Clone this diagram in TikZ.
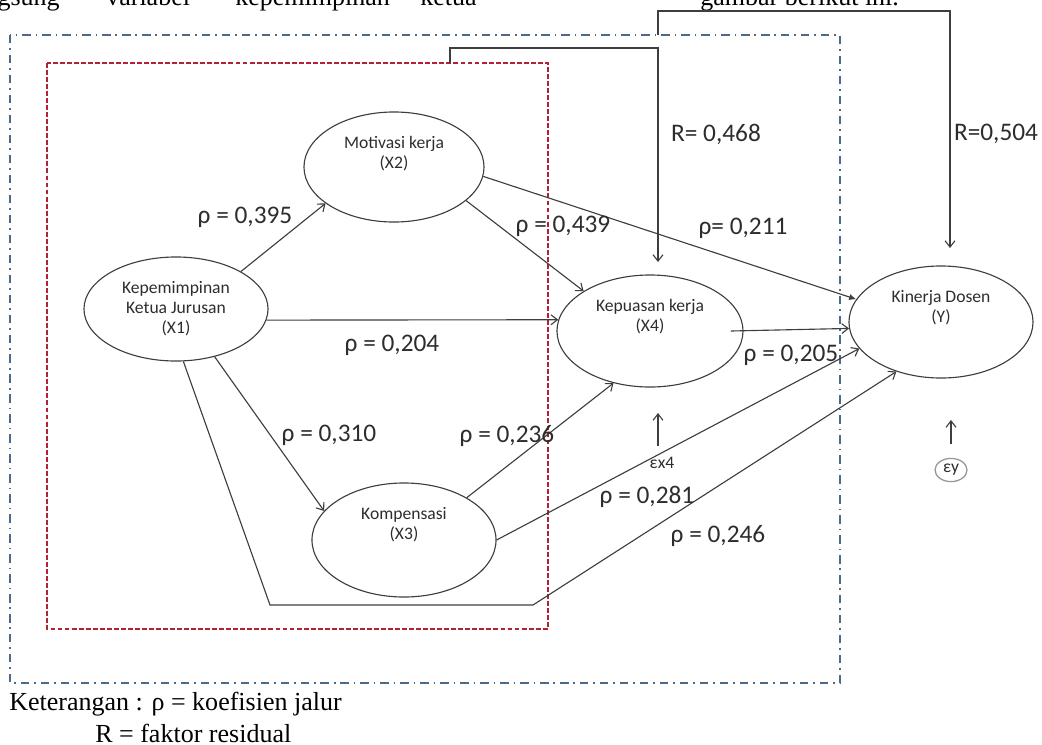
\documentclass[tikz,border=0pt]{standalone}
\usepackage{fontspec}
\setmainfont{Liberation Serif}
\newfontfamily\carlito{Carlito}
\usetikzlibrary{arrows.meta,shapes.geometric,positioning}

\definecolor{linegray}{RGB}{62,62,62}
\definecolor{textgray}{RGB}{45,45,45}
\definecolor{circgray}{RGB}{150,150,150}
\definecolor{boxblue}{RGB}{76,106,136}
\definecolor{boxred}{RGB}{178,34,52}

\begin{document}
\begin{tikzpicture}[x=0.025cm,y=-0.025cm,>={Straight Barb[length=4.5pt,width=7pt]},
  var/.style={ellipse,draw=linegray,line width=0.8pt,inner sep=0pt},
  vartext/.style={anchor=north,yshift=-14pt,font=\carlito\fontsize{12.5}{14.2}\selectfont,text=textgray,align=center},
  path/.style={->,draw=linegray,line width=0.8pt},
  pathsolid/.style={-{Latex[length=5pt,width=4.5pt]},draw=linegray,line width=0.8pt},
  coef/.style={font=\carlito\fontsize{18}{21}\selectfont,text=textgray,inner sep=0pt},
  resid/.style={font=\carlito\fontsize{12.5}{14}\selectfont,text=textgray,inner sep=0pt},
  plain/.style={font=\fontsize{18.5}{22}\selectfont,inner sep=0pt}]
\useasboundingbox (0,0) rectangle (1042,745);
\clip (0,0) rectangle (1042,745);

% running text cut off at the top
\node[plain,anchor=base east] (top1) at (60,5) {langsung};
\node[plain,anchor=base west] (top2) at (106,5) {variabel};
\node[plain,anchor=base west] (top3) at (235,5) {kepemimpinan};
\node[plain,anchor=base west] (top4) at (420,5) {ketua};
\node[plain,anchor=base west] (top5) at (700,5) {gambar berikut ini.};

% groups
\draw[boxblue,line width=1.3pt,dash pattern=on 6pt off 3.5pt on 1.2pt off 3.5pt] (10,35) rectangle (840,683);
\draw[boxred,line width=1.3pt,dash pattern=on 3.5pt off 1.5pt] (47,63) rectangle (548,629);

% variables
\node[var,minimum width=4.6cm,minimum height=2.6cm,label={[vartext]north:Kepemimpinan\\Ketua Jurusan\\(X1)}] (x1) at (176,309) {};
\node[var,minimum width=4.5cm,minimum height=2.75cm,label={[vartext]north:Motivasi kerja\\(X2)}] (x2) at (394,167) {};
\node[var,minimum width=4.6cm,minimum height=2.85cm,label={[vartext]north:Kompensasi\\(X3)}] (x3) at (404,540) {};
\node[var,minimum width=4.65cm,minimum height=2.8cm,label={[vartext]north:Kepuasan kerja\\(X4)}] (x4) at (650,331) {};
\node[var,minimum width=4.6cm,minimum height=2.8cm,label={[vartext]north:Kinerja Dosen\\(Y)}] (y) at (941,322) {};

% paths
\coordinate (bend1) at (270,605);
\coordinate (bend2) at (533,605);
\draw[path] (x1.30) -- (x2.208);
\draw[path] (x1.353) -- (x4.173);
\draw[path] (x1.309) -- (x3.160);
\draw[path] (x1.278) -- (bend1) -- (bend2) -- (y.228);
\draw[path] (x2.335) -- (x4.149);
\draw[pathsolid] (x2.354) -- (y.165);
\draw[path] (x3.34) -- (x4.235);
\draw[path] (x3.0) -- (y.198);
\draw[path] ([xshift=-9pt]x4.east) -- (y.184);

\node[coef] (c12) at (245,217) {ρ = 0,395};
\node[coef] (c14) at (392,345) {ρ = 0,204};
\node[coef] (c13) at (329,435) {ρ = 0,310};
\node[coef] (c24) at (563,226) {ρ = 0,439};
\node[coef] (c2y) at (743,228) {ρ= 0,211};
\node[coef] (c34) at (507,436) {ρ = 0,236};
\node[coef] (c4y) at (791,355) {ρ = 0,205};
\node[coef] (c3y) at (647,497) {ρ = 0,281};
\node[coef] (c1y) at (718,536) {ρ = 0,246};

% residuals
\coordinate (r4start) at (450,63);
\coordinate (r4tip) at (658,262);
\coordinate (rystart) at (658,35);
\coordinate (rytip) at (950,248);
\draw[path] (r4start) -- ++(0,-15) -| (r4tip);
\draw[path] (rystart) -- ++(0,-24) -| (rytip);
\node[coef] (r4) at (716,134) {R= 0,468};
\node[coef] (ry) at (996,134) {R=0,504};

\coordinate (ex4tip) at (658,413);
\coordinate (eytip) at (951,420);
\node[resid] (ex4) at (662,463) {εx4};
\node[resid,ellipse,draw=circgray,line width=0.9pt,minimum width=0.8cm,minimum height=0.58cm] (ey) at (951,470) {εy};
\draw[path,shorten <=8pt] (ex4tip |- ex4.north) -- (ex4tip);
\draw[path,shorten <=9.5pt] (ey.north) -- (eytip);

% legend
\node[plain,anchor=base west] (leg1) at (9,710) {Keterangan : ρ = koefisien jalur};
\node[plain,anchor=base west] (leg2) at (95,742) {R = faktor residual};
\end{tikzpicture}
\end{document}
